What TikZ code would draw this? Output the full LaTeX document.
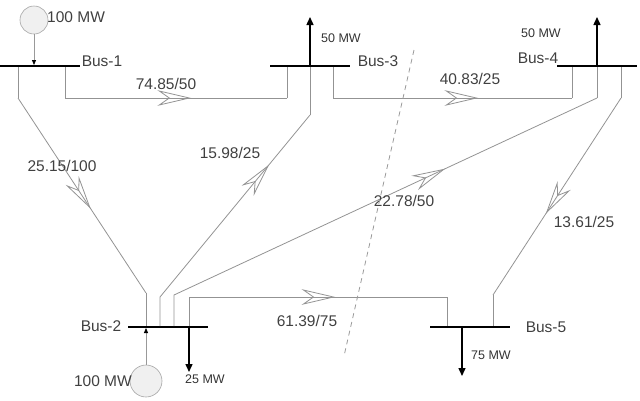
\documentclass[tikz,border=0pt]{standalone}
\usepackage{fontspec}
\setmainfont{Liberation Sans}
\usetikzlibrary{arrows.meta,decorations.markings}
\begin{document}
\begin{tikzpicture}[x=1pt,y=-1pt,
  bus/.style={line width=2.6pt,black},
  ln/.style={draw=gray!85,line width=0.8pt},
  flow/.style={postaction={decorate,decoration={markings,mark=at position #1 with {\draw[gray!85,line width=0.8pt,line join=miter] (0pt,0pt) -- (-30pt,7pt) -- (-20pt,0pt) -- (-30pt,-7pt) -- cycle;}}}},
  load/.style={line width=1.4pt,-{Triangle[length=8pt,width=7pt]}},
  gen/.style={circle,draw=gray!70,fill=gray!12,line width=0.6pt,inner sep=0pt},
  lbl/.style={font=\fontsize{15.5}{16}\selectfont,text=black!75,inner sep=1pt},
  mw/.style={font=\fontsize{12.5}{13}\selectfont,text=black!80,inner sep=1pt}]
\useasboundingbox (0,0) rectangle (640,400);
% buses
\draw[bus] (0,66) -- (80,66);
\draw[bus] (270,66) -- (350,66);
\draw[bus] (557,66) -- (637,66);
\draw[bus] (128,327) -- (208,327);
\draw[bus] (430,327) -- (510,327);
\node[lbl] (l1) at (102,61) {Bus-1};
\node[lbl] (l3) at (378,61) {Bus-3};
\node[lbl] (l4) at (538,58) {Bus-4};
\node[lbl] (l2) at (101,326) {Bus-2};
\node[lbl] (l5) at (546,327) {Bus-5};
% generators
\node[gen,minimum size=28pt] (g1) at (34,20) {};
\draw[gray!80,line width=0.8pt,-{Triangle[length=5pt,width=4pt,black]}] (g1.south) -- (34,65);
\node[lbl,anchor=west] (t1) at (46,17) {100 MW};
\node[gen,minimum size=32pt] (g2) at (146,381) {};
\draw[gray!80,line width=0.8pt,-{Triangle[length=5pt,width=4pt,black]}] (g2.north) -- (146,328);
\node[lbl,anchor=east] (t2) at (133,381) {100 MW};
% loads
\draw[load] (310,66) -- (310,17);
\node[mw] (m3) at (341,38) {50 MW};
\draw[load] (597,66) -- (597,17);
\node[mw] (m4) at (541,33) {50 MW};
\draw[load] (189,327) -- (189,372);
\node[mw] (m2) at (205,379) {25 MW};
\draw[load] (462,327) -- (462,376);
\node[mw] (m5) at (491,355) {75 MW};
% lines
\draw[ln] (65,67) -- (65,98);
\draw[ln,flow=0.56] (65,98) -- (287,98);
\draw[ln] (287,98) -- (287,67);
\node[lbl] at (166,84) {74.85/50};
\draw[ln] (333,67) -- (333,98);
\draw[ln,flow=0.6] (333,98) -- (572,98);
\draw[ln] (572,98) -- (572,67);
\node[lbl] at (470,79) {40.83/25};
\draw[ln] (18,67) -- (18,98);
\draw[ln,flow=0.56] (18,98) -- (146,293);
\draw[ln] (146,293) -- (146,326);
\node[lbl] at (62,166) {25.15/100};
\draw[ln] (310,67) -- (310,115);
\draw[ln,flow=0.75] (160,326) -- (160,297) -- (310,115);
\node[lbl] at (230,153) {15.98/25};
\draw[ln] (597,67) -- (597,98);
\draw[ln,flow=0.66] (174,326) -- (174,295) -- (597,98);
\node[lbl] at (404,201) {22.78/50};
\draw[ln] (189,326) -- (189,297);
\draw[ln,flow=0.56] (189,297) -- (447,297);
\draw[ln] (447,297) -- (447,326);
\node[lbl] at (307,321) {61.39/75};
\draw[ln] (621,67) -- (621,98);
\draw[ln,flow=0.58] (621,98) -- (493,295);
\draw[ln] (493,295) -- (493,326);
\node[lbl] at (584,222) {13.61/25};
% cut
\draw[gray!80,line width=0.8pt,dash pattern=on 5pt off 4pt] (414,50) -- (344,356);
\end{tikzpicture}
\end{document}
